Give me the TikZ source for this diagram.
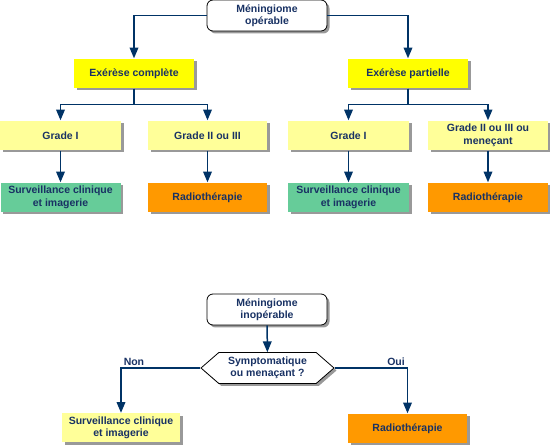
\documentclass[tikz,border=0pt]{standalone}
\usepackage{fontspec}
\setmainfont{Liberation Sans}
\usetikzlibrary{arrows,shapes.symbols,shadows}
\definecolor{navy}{RGB}{0,51,102}
\definecolor{textblue}{RGB}{25,50,100}
\definecolor{brightyellow}{RGB}{255,255,0}
\definecolor{paleyellow}{RGB}{255,255,153}
\definecolor{mintgreen}{RGB}{102,204,153}
\definecolor{darkorange}{RGB}{255,153,0}

\begin{document}
\begin{tikzpicture}[x=1pt,y=-1pt,>=triangle 45,line width=1.5pt,node distance=62pt,
    every node/.style={font=\bfseries\fontsize{10.5}{12.5}\selectfont,text=textblue,align=center},
    base box/.style={rectangle,minimum width=120pt,minimum height=29pt,inner sep=1pt,
      drop shadow={shadow xshift=2.5pt,shadow yshift=-2.5pt,fill=gray,opacity=.8}},
    op box/.style={base box,fill=brightyellow},
    grade box/.style={base box,fill=paleyellow},
    watch box/.style={base box,fill=mintgreen},
    radio box/.style={base box,fill=darkorange},
    start box/.style={base box,rounded corners=6pt,
      draw=black,line width=0.8pt,fill=white,minimum height=31pt},
    test node/.style={signal,signal to=east and west,signal pointer angle=82,draw=black,
      line width=0.8pt,fill=white,minimum width=133pt,minimum height=31pt,inner sep=1pt,
      drop shadow={shadow xshift=2.5pt,shadow yshift=-2.5pt,fill=gray,opacity=.8}},
    link/.style={->,draw=navy}]
  \useasboundingbox (0,0) rectangle (550,446);
  % operable
  \node[start box] (op) at (267,15.5) {Méningiome\\opérable};
  \node[op box] (complete) at (134,73.5) {Exérèse complète};
  \node[op box] (partial) at (408,73.5) {Exérèse partielle};
  \node[grade box,minimum width=121pt] (gIc) at (60.5,135.5) {Grade I};
  \node[grade box,minimum width=119pt] (gIIc) at (207.5,135.5) {Grade II ou III};
  \node[grade box,minimum width=121pt] (gIp) at (348.5,135.5) {Grade I};
  \node[grade box] (gIIp) at (488,135.5) {Grade II ou III ou\\meneçant};
  \node[watch box] (watchc) [below of=gIc] {Surveillance clinique\\et imagerie};
  \node[radio box,minimum width=119pt] (radioc) [below of=gIIc] {Radiothérapie};
  \node[watch box,minimum width=121pt] (watchp) [below of=gIp] {Surveillance clinique\\et imagerie};
  \node[radio box] (radiop) [below of=gIIp] {Radiothérapie};
  % inoperable
  \node[start box] (inop) at (267,309.5) {Méningiome\\inopérable};
  \node[test node] (test) at (267.5,368) {Symptomatique\\ou menaçant ?};
  \node[grade box,minimum width=118pt] (watchi) at (121,428) {Surveillance clinique\\et imagerie};
  \node[radio box,minimum width=119pt] (radioi) at (407.5,428.5) {Radiothérapie};

  \draw[link] (op.west) -| (complete.north);
  \draw[link] (op.east) -| (partial.north);
  \draw[link] (complete.south) -- ++(0,16) -| (gIc.north);
  \draw[link] (complete.south) -- ++(0,16) -| (gIIc.north);
  \draw[link] (partial.south) -- ++(0,16) -| (gIp.north);
  \draw[link] (partial.south) -- ++(0,16) -| (gIIp.north);
  \draw[link] (gIc) -- (watchc);
  \draw[link] (gIIc) -- (radioc);
  \draw[link] (gIp) -- (watchp);
  \draw[link] (gIIp) -- (radiop);
  \draw[link] (inop) -- (test);
  \draw[link] (test.west) -| node[pos=0.5,above right,inner sep=2pt] {Non} (watchi.north);
  \draw[link] (test.east) -| node[pos=0.5,above left,inner sep=2pt] {Oui} (radioi.north);
\end{tikzpicture}
\end{document}
